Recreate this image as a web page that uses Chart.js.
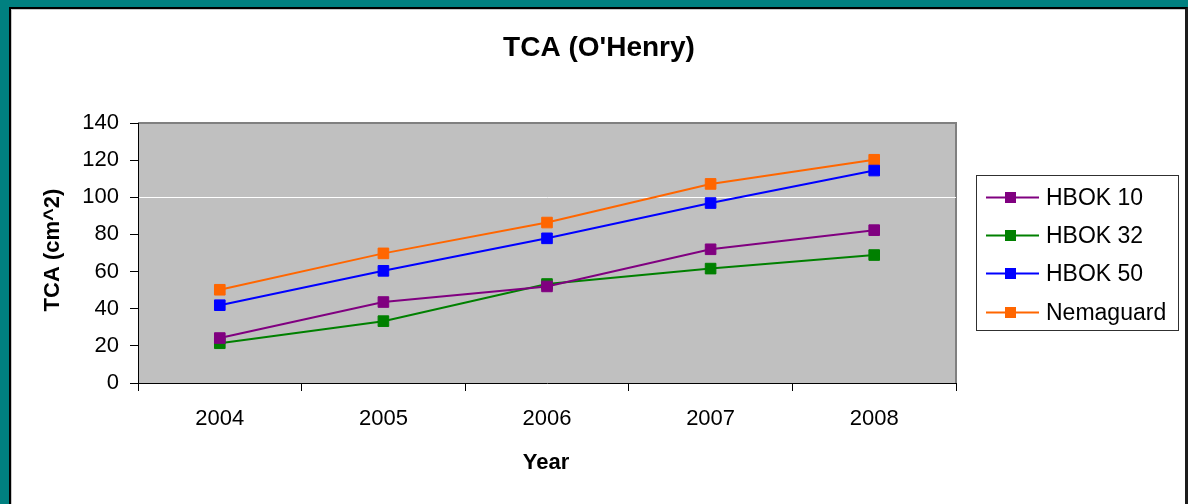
<!DOCTYPE html>
<html>
<head>
<meta charset="utf-8">
<script src="https://cdn.jsdelivr.net/npm/chart.js@4.4.1/dist/chart.umd.min.js"></script>
<style>
  html, body { margin: 0; padding: 0; }
  body { width: 1188px; height: 504px; background: #008080; position: relative; overflow: hidden; }
  #frame {
    position: absolute; left: 9px; top: 7px; width: 1174px; height: 520px;
    background: #fff; border-left: 2px solid #000; border-top: 2px solid #000; border-right: 3px solid #1c1c1c;
    box-shadow: inset 1px 1px 0 #c8c8c8;
  }
  #tcaChart { position: absolute; left: 0; top: 0; }
</style>
</head>
<body>
<div id="frame"></div>
<canvas id="tcaChart" width="1188" height="504"></canvas>
<script>
const years = ['2004', '2005', '2006', '2007', '2008'];
const hbok10 = [24.2, 43.6, 52, 72, 82.3];
const hbok32 = [21.4, 33.3, 53.3, 61.6, 68.9];
const hbok50 = [41.9, 60.4, 77.9, 96.9, 114.4];
const nemaguard = [50.2, 69.8, 86.4, 107.2, 120.2];
const seriesNames = ['HBOK 10', 'HBOK 32', 'HBOK 50', 'Nemaguard'];
const seriesColors = ['#800080', '#008000', '#0000FF', '#FF6600'];
const yMin = 0, yMax = 140, yStep = 20;
const chartTitle = "TCA (O'Henry)";
const xTitle = 'Year';
const yTitle = 'TCA (cm^2)';

const FONT = "'Liberation Sans', Arial, sans-serif";

// plot background + border, titles and the legend
const decor = {
    id: 'decor',
    beforeDraw(chart) {
        const { ctx, chartArea: a } = chart;
        ctx.save();
        ctx.fillStyle = '#C0C0C0';
        ctx.fillRect(a.left, a.top, a.right - a.left, a.bottom - a.top);
        ctx.strokeStyle = '#808080';
        ctx.lineWidth = 2;
        ctx.beginPath();
        ctx.moveTo(a.left, a.top);
        ctx.lineTo(a.right, a.top);
        ctx.lineTo(a.right, a.bottom);
        ctx.stroke();
        ctx.restore();
    },
    afterDraw(chart) {
        const ctx = chart.ctx;
        ctx.save();
        ctx.fillStyle = '#000';
        ctx.textAlign = 'center';
        ctx.textBaseline = 'middle';
        ctx.font = 'bold 28px ' + FONT;
        ctx.fillText(chartTitle, 599, 48);
        ctx.font = 'bold 22px ' + FONT;
        ctx.fillText(xTitle, 546, 463);
        ctx.save();
        ctx.translate(53, 250);
        ctx.rotate(-Math.PI / 2);
        ctx.fillText(yTitle, 0, 0);
        ctx.restore();

        // legend
        ctx.strokeStyle = '#303030';
        ctx.lineWidth = 1;
        ctx.strokeRect(976.5, 175.5, 202, 155);
        ctx.textAlign = 'left';
        ctx.font = '23px ' + FONT;
        chart.data.datasets.forEach((ds, i) => {
            const y = Math.round(196.5 + i * 38.4) + 0.5;
            ctx.strokeStyle = ds.borderColor;
            ctx.lineWidth = 2;
            ctx.beginPath();
            ctx.moveTo(986, y);
            ctx.lineTo(1039, y);
            ctx.stroke();
            ctx.fillStyle = ds.borderColor;
            ctx.fillRect(1005, y - 5.5, 11, 11);
            ctx.fillStyle = '#000';
            ctx.fillText(ds.label, 1046, y + 1);
        });
        ctx.restore();
    }
};

const seriesData = [hbok10, hbok32, hbok50, nemaguard];

new Chart(document.getElementById('tcaChart'), {
    type: 'line',
    data: {
        labels: years,
        datasets: seriesData.map((d, i) => ({
            label: seriesNames[i],
            data: d,
            borderColor: seriesColors[i],
            backgroundColor: seriesColors[i],
            borderWidth: 2,
            pointStyle: 'rect',
            pointRadius: 7.5,
            pointBorderWidth: 1,
            tension: 0
        }))
    },
    options: {
        responsive: false,
        animation: false,
        layout: { padding: { left: 12, right: 232, top: 123, bottom: 0 } },
        plugins: {
            legend: { display: false },
            title: { display: false },
            tooltip: { enabled: false }
        },
        scales: {
            x: {
                offset: true,
                grid: {
                    offset: true,
                    drawOnChartArea: false,
                    tickLength: 8,
                    color: '#000'
                },
                border: { color: '#000', width: 1 },
                ticks: { color: '#000', font: { family: FONT, size: 22 }, padding: 15 },
                afterFit(scale) { scale.height = 121; }
            },
            y: {
                min: yMin,
                max: yMax,
                grid: {
                    color: c => (c.tick && c.tick.value === 100 ? '#fff' : 'rgba(0,0,0,0)'),
                    tickColor: '#000',
                    tickLength: 8
                },
                border: { color: '#000', width: 1 },
                ticks: { stepSize: yStep, color: '#000', font: { family: FONT, size: 22 }, padding: 11 },
                afterFit(scale) { scale.width = 126; }
            }
        }
    },
    plugins: [decor]
});
</script>
</body>
</html>
